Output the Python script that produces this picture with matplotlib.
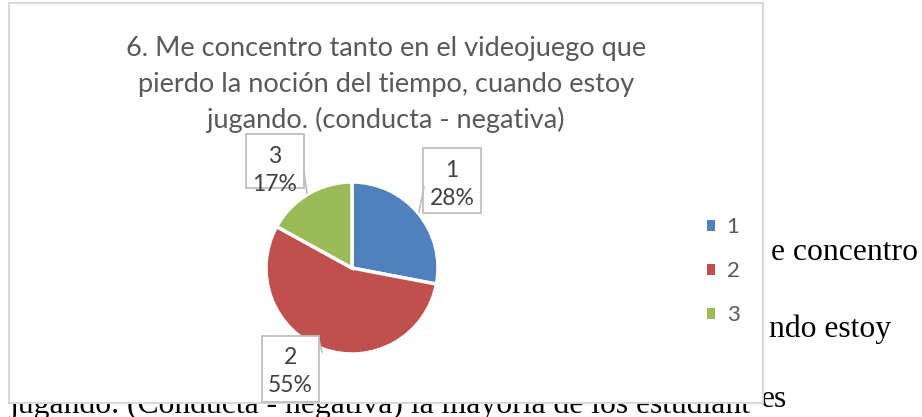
import matplotlib
matplotlib.use("Agg")
import matplotlib.pyplot as plt
from matplotlib.patches import Rectangle
from matplotlib.lines import Line2D

# ---- data ----
categories = ["1", "2", "3"]
values = [28, 55, 17]
colors = ["#4F81BD", "#C0504D", "#9BBB59"]
title_lines = ["6. Me concentro tanto en el videojuego que",
               "pierdo la noción del tiempo, cuando estoy",
               "jugando. (conducta - negativa)"]
doc_texts = ["e concentro", "ndo estoy",
             "jugando. (Conducta - negativa) la mayoría de los estudiant", "es"]

W, H = 922, 417
fig = plt.figure(figsize=(W / 100, H / 100), dpi=100)
ax = fig.add_axes([0, 0, 1, 1])
ax.set_xlim(0, W)
ax.set_ylim(0, H)
ax.axis("off")

def Y(y):  # pixel-from-top to axes y
    return H - y

serif = "Liberation Serif"
sans = "Lato"
dfs = 22.8
# background document text
ax.text(771, Y(260), doc_texts[0], fontsize=dfs, family=serif, va="baseline", zorder=0)
ax.text(769, Y(337), doc_texts[1], fontsize=dfs, family=serif, va="baseline", zorder=0)
ax.text(10, Y(413), doc_texts[2], fontsize=dfs, family=serif, va="baseline", zorder=0)
ax.text(761, Y(407), doc_texts[3], fontsize=dfs, family=serif, va="baseline", zorder=0)

# chart area
ax.add_patch(Rectangle((9, Y(403)), 763 - 9, 403 - 3, facecolor="white",
                       edgecolor="#d9d9d9", lw=1.5, zorder=1))

# title
for i, line in enumerate(title_lines):
    ax.text(386, Y(56 + 36 * i), line, fontsize=19.5, family=sans, color="#595959",
            ha="center", va="baseline", zorder=3)

# pie
wedges, _ = ax.pie(values, colors=colors, startangle=90, counterclock=False,
                   center=(352, Y(268)), radius=86,
                   wedgeprops=dict(edgecolor="white", linewidth=2.5), frame=True)
for w in wedges:
    w.set_zorder(2)
ax.set_xlim(0, W)
ax.set_ylim(0, H)
ax.set_aspect("auto")
ax.axis("off")

# data labels (box layout: x0, y0, x1, y1 in px from top-left) and leader lines
total = sum(values)
boxes = [(423, 148, 481, 213), (262, 336, 319, 402), (246, 134, 304, 188)]
leaders = [((424, 187), (419, 212)), ((319, 340), (322, 352)), ((304, 172), (307, 193))]
for cat, v, (x0, y0, x1, y1), (p, q) in zip(categories, values, boxes, leaders):
    ax.add_patch(Rectangle((x0, Y(y1)), x1 - x0, y1 - y0, facecolor="white",
                           edgecolor="#bfbfbf", lw=1.3, zorder=4))
    cx = (x0 + x1) / 2
    ax.text(cx, Y(y0 + 22), cat, fontsize=16.5, family=sans, color="#404040",
            ha="center", va="center", zorder=5)
    ax.text(cx, Y(y0 + 50), f"{round(100 * v / total)}%", fontsize=16.5, family=sans,
            color="#404040", ha="center", va="center", zorder=5)
    ax.add_line(Line2D([p[0], q[0]], [Y(p[1]), Y(q[1])], color="#bfbfbf", lw=1.2, zorder=4))

# legend
leg = ax.legend(wedges, categories, loc="upper left", bbox_to_anchor=(707, Y(217)),
                bbox_transform=ax.transData, frameon=False, borderpad=0,
                borderaxespad=0, handlelength=0.38, handleheight=0.38,
                handletextpad=0.5, labelspacing=1.08,
                prop=dict(family=sans, size=16))
for t in leg.get_texts():
    t.set_color("#595959")
for h in leg.legend_handles:
    h.set_edgecolor("none")
leg.set_zorder(5)

fig.savefig("out.png", dpi=100)
